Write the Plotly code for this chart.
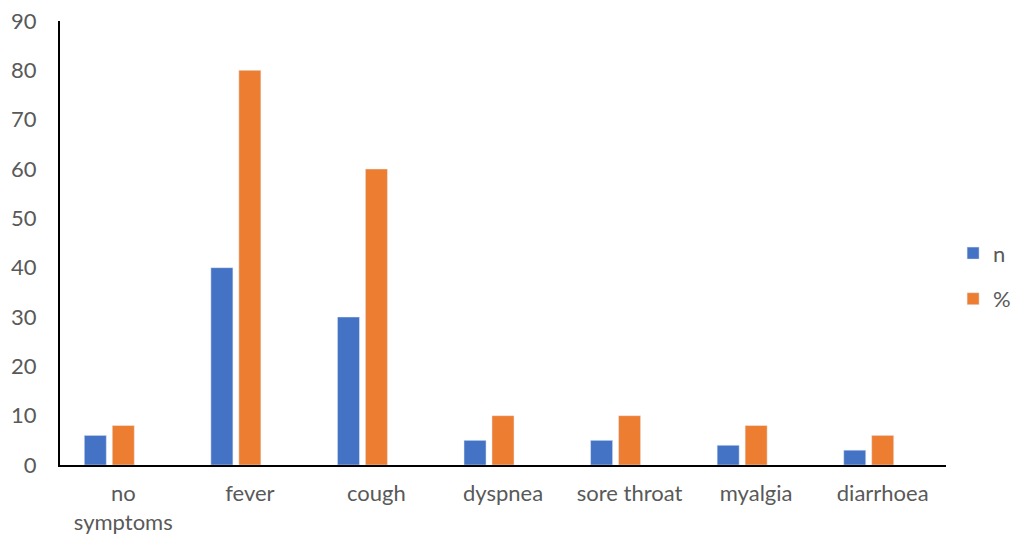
import plotly.graph_objects as go

categories = ["no<br>symptoms", "fever", "cough", "dyspnea", "sore throat", "myalgia", "diarrhoea"]
n_values = [6, 40, 30, 5, 5, 4, 3]
pct_values = [8, 80, 60, 10, 10, 8, 6]
y_ticks = [0, 10, 20, 30, 40, 50, 60, 70, 80, 90]

BLUE = "#4472C4"
ORANGE = "#ED7D31"
TEXT = "#595959"
FONT = "Lato, Open Sans, sans-serif"
FS = 22

fig = go.Figure()
fig.add_trace(go.Bar(x=categories, y=n_values, name="n", marker_color=BLUE,
                     width=0.174, offset=-0.308, legendgroup="a"))
fig.add_trace(go.Bar(x=categories, y=pct_values, name="%", marker_color=ORANGE,
                     width=0.174, offset=-0.087, legendgroup="b"))

fig.update_layout(
    width=1021, height=539,
    margin=dict(l=52, r=83, t=13, b=82, autoexpand=False),
    paper_bgcolor="white", plot_bgcolor="white",
    barmode="overlay",
    font=dict(family=FONT, size=FS, color=TEXT),
    showlegend=True,
    legend=dict(x=1.008, xanchor="left", y=0.425, yanchor="middle",
                font=dict(family=FONT, size=FS, color=TEXT),
                tracegroupgap=14, traceorder="grouped",
                bgcolor="rgba(0,0,0,0)"),
    xaxis=dict(showline=True, linecolor="black", linewidth=2, showgrid=False,
               ticks="", tickfont=dict(family=FONT, size=FS, color=TEXT),
               range=[-0.5, 6.5], automargin=False, ticklabelstandoff=8),
    yaxis=dict(showline=True, linecolor="black", linewidth=2, showgrid=False,
               ticks="", range=[0, 90], tickvals=y_ticks, zeroline=False,
               tickfont=dict(family=FONT, size=FS, color=TEXT),
               ticklabelstandoff=17, automargin=False,
               ticklabeloverflow="allow"),
)

fig.write_html("out.html")
